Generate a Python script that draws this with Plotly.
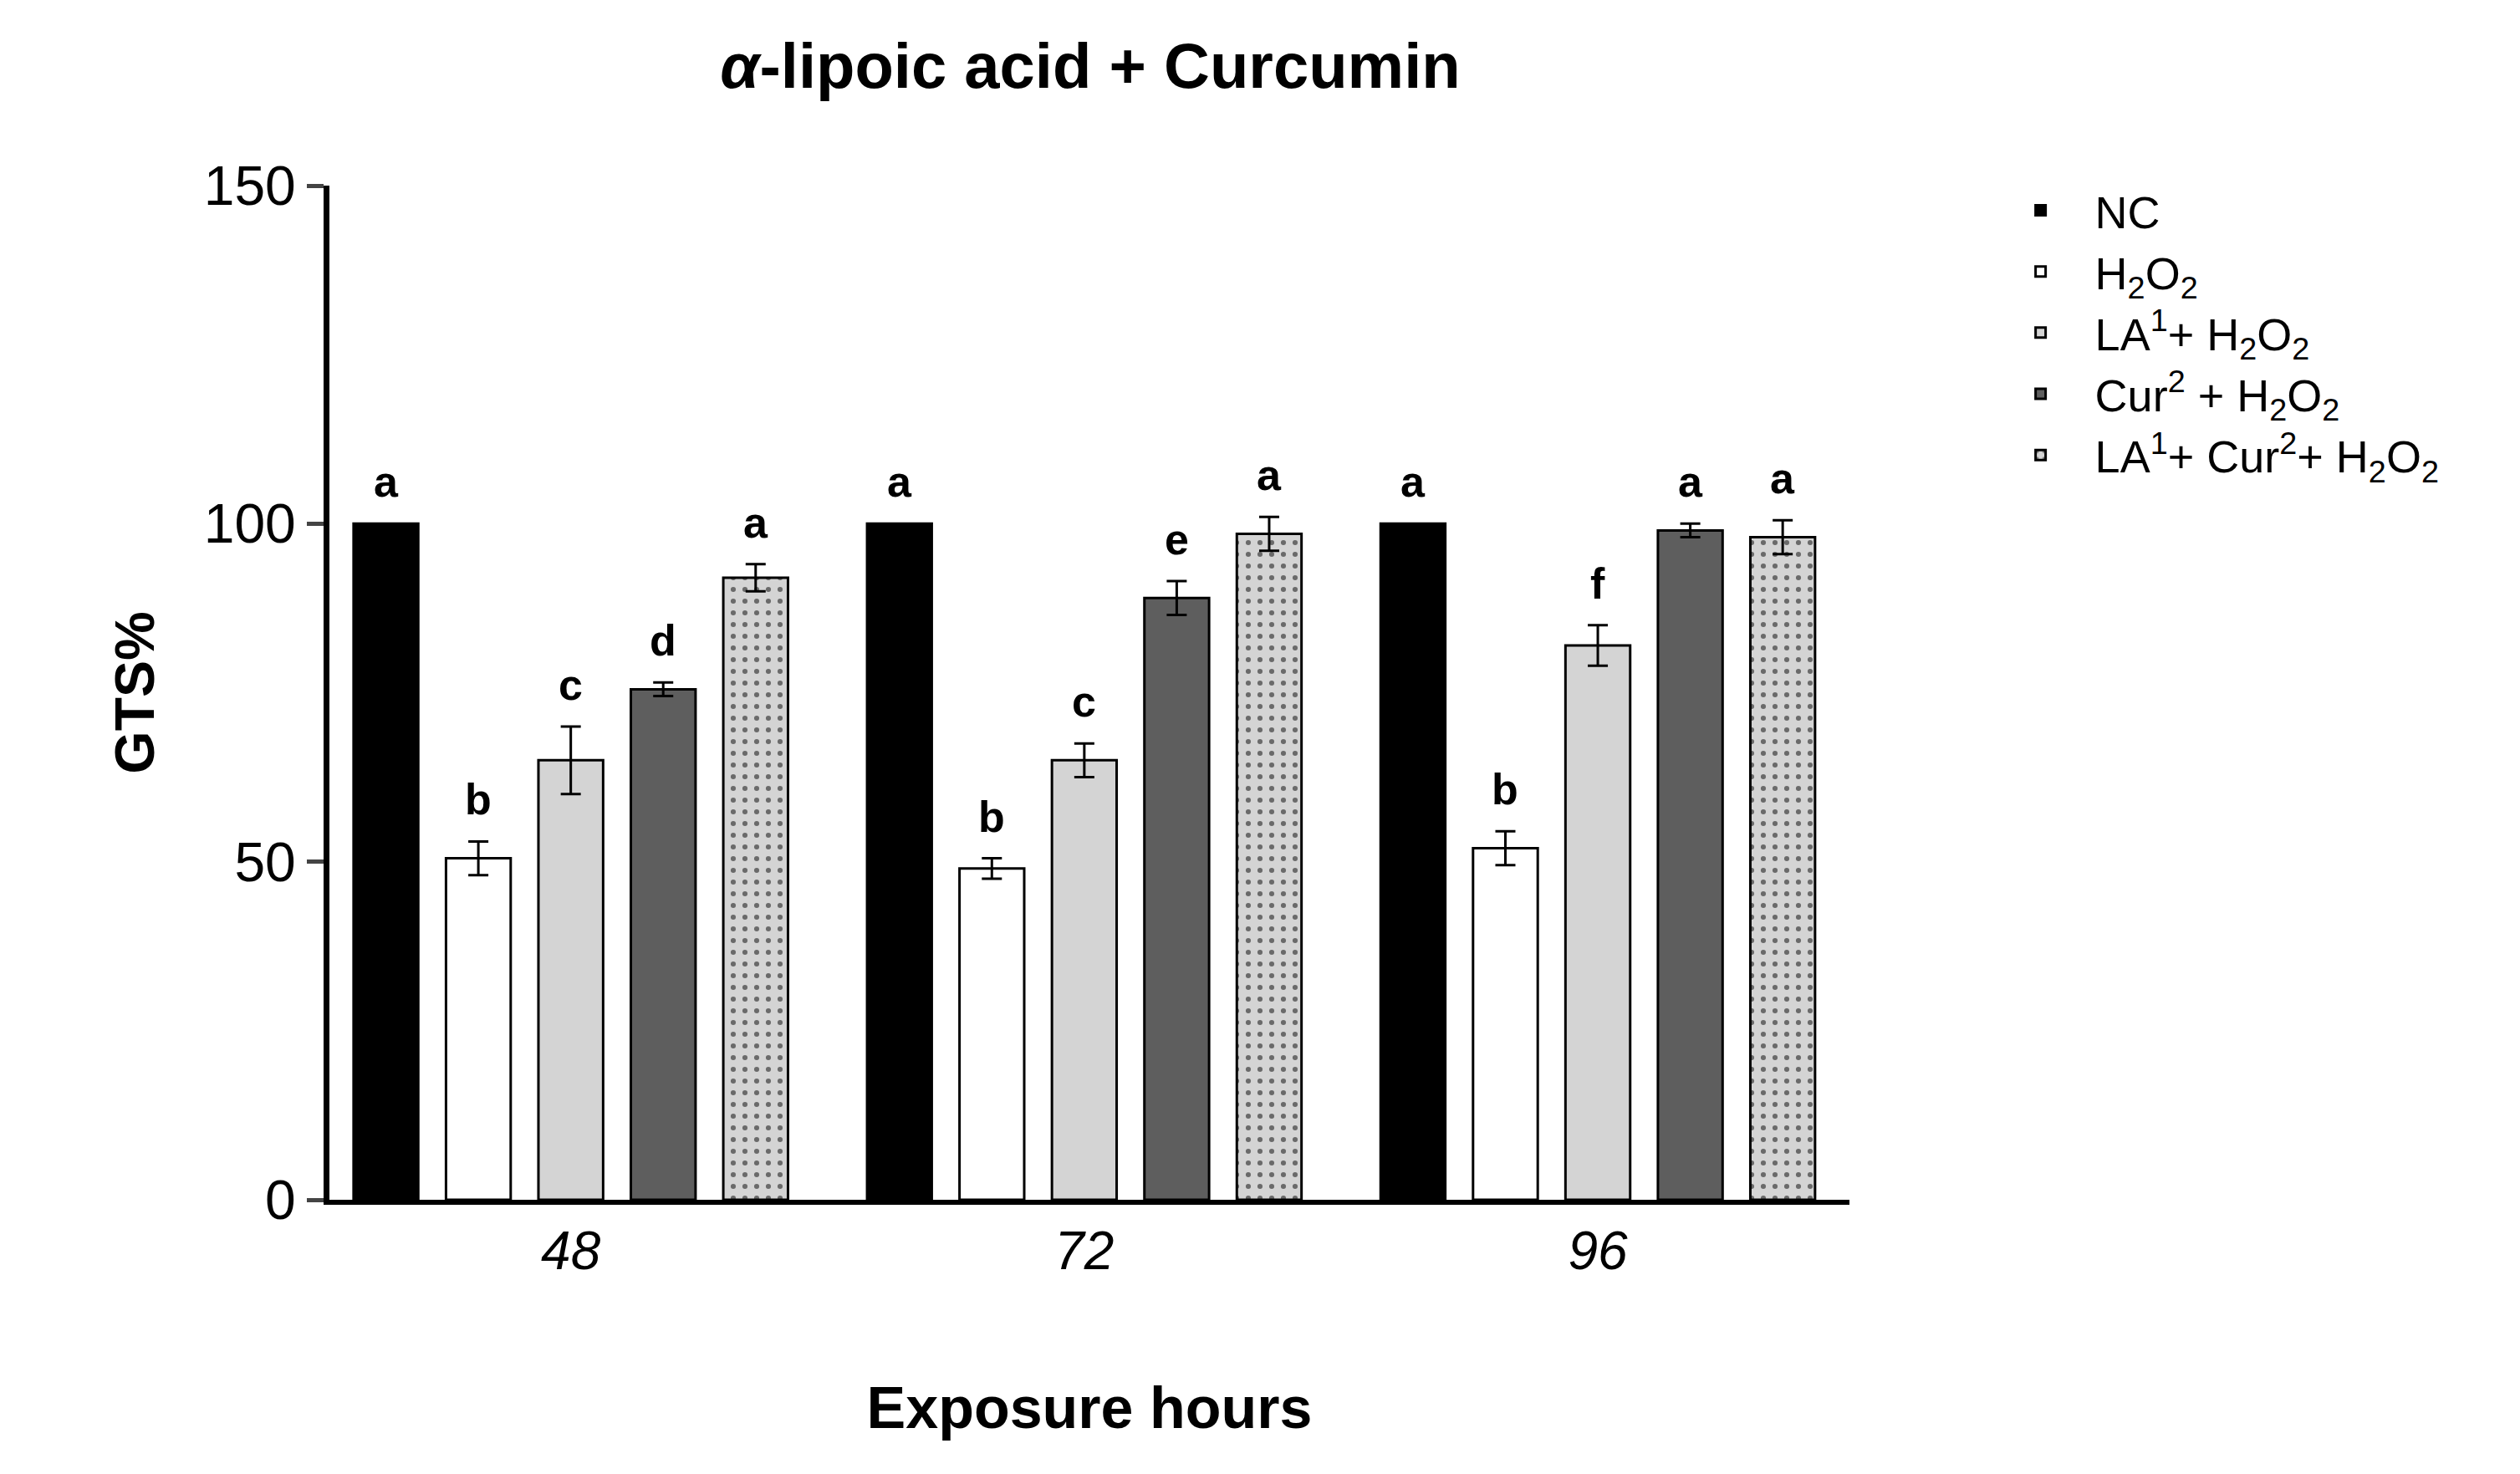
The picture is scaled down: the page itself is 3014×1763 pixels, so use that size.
import plotly.graph_objects as go

hours = ["48", "72", "96"]
series = ["NC", "H<sub>2</sub>O<sub>2</sub>", "LA<sup>1</sup>+ H<sub>2</sub>O<sub>2</sub>",
          "Cur<sup>2</sup> + H<sub>2</sub>O<sub>2</sub>", "LA<sup>1</sup>+ Cur<sup>2</sup>+ H<sub>2</sub>O<sub>2</sub>"]
nc = [100, 100, 100]
h2o2 = [50.5, 49, 52]
la = [65, 65, 82]
cur = [75.5, 89, 99]
combo = [92, 98.5, 98]
nc_err = [0, 0, 0]
h2o2_err = [2.5, 1.5, 2.5]
la_err = [5, 2.5, 3]
cur_err = [1, 2.5, 1]
combo_err = [2, 2.5, 2.5]
letters = [["a", "b", "c", "d", "a"], ["a", "b", "c", "e", "a"], ["a", "b", "f", "a", "a"]]

vals = [nc, h2o2, la, cur, combo]
errs = [nc_err, h2o2_err, la_err, cur_err, combo_err]
colors = ["#000000", "#ffffff", "#d4d4d4", "#5e5e5e", "#d4d4d4"]
xs = [0, 1, 2]
bargap = 0.1
n = len(series)
slot = (1 - bargap) / n

fig = go.Figure()
for i in range(n):
    pat = dict(shape=".", fgcolor="black", size=14, solidity=0.15) if i == 4 else None
    fig.add_trace(go.Bar(
        x=xs, y=vals[i], name=series[i], legendgroup="g%d" % i,
        marker=dict(color=colors[i], line=dict(color="black", width=3), pattern=pat),
        error_y=dict(type="data", array=errs[i], visible=any(e > 0 for e in errs[i]),
                     color="black", thickness=3, width=12),
    ))
    for j in range(3):
        fig.add_annotation(x=xs[j] + (i - (n - 1) / 2) * slot, y=vals[i][j] + errs[i][j],
                           text="<b>%s</b>" % letters[j][i], showarrow=False, yshift=50,
                           font=dict(size=52, color="black", family="Arial, Liberation Sans"))

fig.update_layout(
    width=3014, height=1763, plot_bgcolor="white", paper_bgcolor="white",
    barmode="group", bargap=bargap, bargroupgap=0.3,
    font=dict(family="Arial, Liberation Sans", color="black"),
    title=dict(text="<b><i>α</i>-lipoic acid + Curcumin</b>", x=0.43, xanchor="center", y=0.975,
               font=dict(size=76)),
    margin=dict(l=386, r=810, t=214, b=336),
    legend=dict(x=1.09, y=1.01, yanchor="top", font=dict(size=54), tracegroupgap=30,
                itemwidth=120, traceorder="normal"),
    xaxis=dict(range=[-0.47, 2.49], tickvals=xs, ticktext=["<i>%s</i>" % h for h in hours],
               showline=True, linecolor="black", linewidth=6, ticks="", tickfont=dict(size=64),
               title=dict(text="<b>Exposure hours</b>", font=dict(size=70), standoff=130)),
    yaxis=dict(range=[0, 150], tickvals=[0, 50, 100, 150], showline=True, linecolor="black",
               linewidth=7, ticks="outside", ticklen=20, tickwidth=5, showgrid=False,
               zeroline=False, tickfont=dict(size=66),
               title=dict(text="<b>GTS%</b>", font=dict(size=66), standoff=40)),
)
fig.write_html("out.html")
